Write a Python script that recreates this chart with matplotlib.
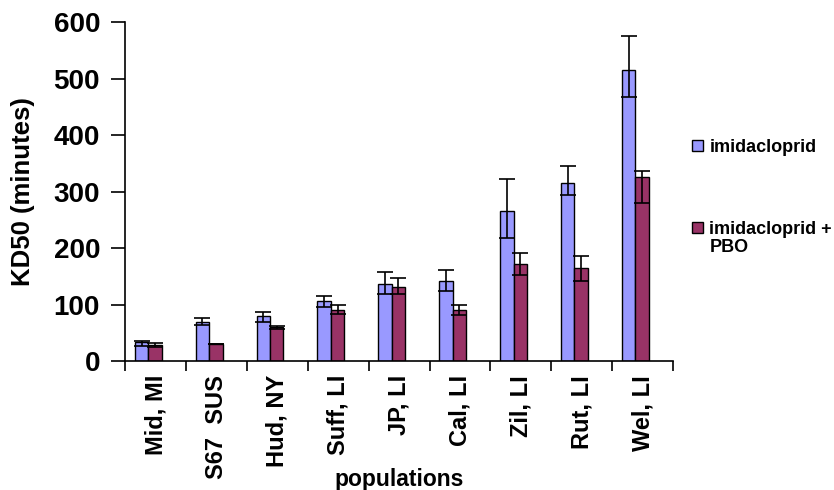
import matplotlib
matplotlib.use("Agg")
import matplotlib.pyplot as plt
import numpy as np

plt.rcParams['font.family'] = ['Liberation Sans', 'DejaVu Sans']
plt.rcParams['font.weight'] = 'bold'

populations = ["Mid, MI", "S67  SUS", "Hud, NY", "Suff, LI", "JP, LI",
               "Cal, LI", "Zil, LI", "Rut, LI", "Wel, LI"]
imid = [33, 70, 79, 107, 136, 141, 265, 316, 515]
imid_lo = [6, 6, 9, 11, 18, 17, 47, 22, 47]
imid_hi = [3.5, 7, 8, 8, 22, 21, 58, 29, 60]
pbo = [28, 31, 60, 90, 132, 90, 172, 164, 325]
pbo_lo = [3.5, 0, 3.5, 6, 14, 8, 20, 22, 45]
pbo_hi = [3.5, 0, 2.5, 9, 15, 9, 20, 22, 12]

fig = plt.figure(figsize=(8.34, 4.90), dpi=100)
ax = fig.add_axes([0.150, 0.263, 0.657, 0.692])

x = np.arange(len(populations)) - 0.12
w = 0.22
ax.bar(x - w / 2, imid, w, color='#9999FF', edgecolor='black', linewidth=1,
       yerr=[imid_lo, imid_hi], capsize=5.5, error_kw=dict(elinewidth=1.2, capthick=1.2),
       label='imidacloprid')
ax.bar(x + w / 2, pbo, w, color='#993366', edgecolor='black', linewidth=1,
       yerr=[pbo_lo, pbo_hi], capsize=5.5, error_kw=dict(elinewidth=1.2, capthick=1.2),
       label='imidacloprid +')

ax.set_xlim(-0.5, len(populations) - 0.5)
ax.set_ylim(0, 600)
ax.set_yticks(range(0, 601, 100))
ax.set_xticks(np.arange(len(populations)))
ax.set_xticklabels(populations, rotation=90, fontsize=17, fontweight='bold')
ax.set_xticks(np.arange(len(populations) + 1) - 0.5, minor=True)
ax.tick_params(axis='x', which='major', length=0, pad=10)
ax.tick_params(axis='x', which='minor', length=7, width=1.2, direction='out')
ax.tick_params(axis='y', length=10, width=1.2, direction='out', labelsize=20, pad=8)
for t in ax.get_yticklabels():
    t.set_fontweight('bold')

for s in ['top', 'right']:
    ax.spines[s].set_visible(False)
for s in ['left', 'bottom']:
    ax.spines[s].set_linewidth(1.2)

ax.set_ylabel('KD50 (minutes)', fontsize=18.5, fontweight='bold')
ax.yaxis.set_label_coords(-0.164, 0.5)
fig.text(0.479, 0.008, 'populations', fontsize=16.5, fontweight='bold',
         ha='center', va='baseline')

leg = ax.legend(loc='upper left', bbox_to_anchor=(1.035, 0.655), frameon=False,
                borderpad=0, borderaxespad=0, handlelength=0.6, handleheight=0.6,
                handletextpad=0.35, labelspacing=3.6,
                prop={'weight': 'bold', 'size': 13})

# second line of the PBO legend label, put under its first line
fig.canvas.draw()
bb = leg.get_texts()[1].get_window_extent()
W, H = fig.canvas.get_width_height()
fig.text(bb.x0 / W, (bb.y0 - 1) / H, 'PBO', fontsize=13, fontweight='bold',
         ha='left', va='top')

fig.savefig('out.png', dpi=100)
